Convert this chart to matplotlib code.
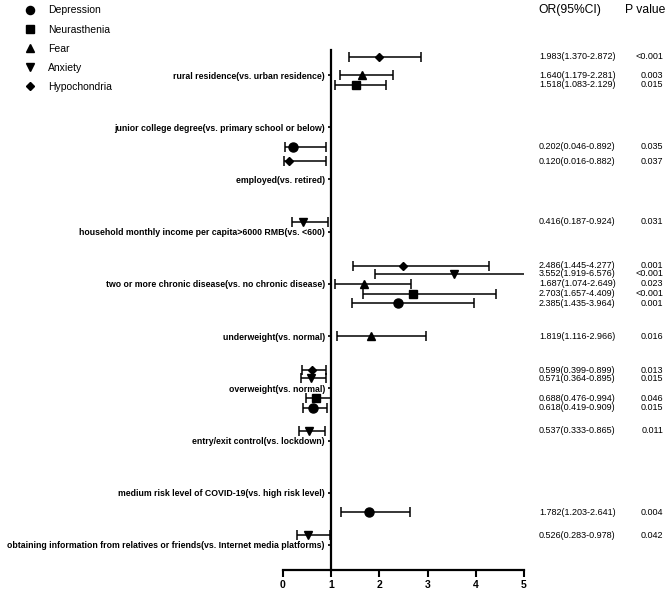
import numpy as np
import matplotlib
matplotlib.use("Agg")
import matplotlib.pyplot as plt
from matplotlib.lines import Line2D
from matplotlib.transforms import blended_transform_factory

plt.rcParams['font.family'] = ['Liberation Sans', 'DejaVu Sans']

# factors, top to bottom
categories = [
    "rural residence(vs. urban residence)",
    "junior college degree(vs. primary school or below)",
    "employed(vs. retired)",
    "household monthly income per capita>6000 RMB(vs. <600)",
    "two or more chronic disease(vs. no chronic disease)",
    "underweight(vs. normal)",
    "overweight(vs. normal)",
    "entry/exit control(vs. lockdown)",
    "medium risk level of COVID-19(vs. high risk level)",
    "obtaining information from relatives or friends(vs. Internet media platforms)",
]

# each series: factor index, OR, lower CI, upper CI, P value text
dep_cat = [1, 4, 6, 8]
dep_or = [0.202, 2.385, 0.618, 1.782]
dep_lo = [0.046, 1.435, 0.419, 1.203]
dep_hi = [0.892, 3.964, 0.909, 2.641]
dep_p = ["0.035", "0.001", "0.015", "0.004"]

neu_cat = [0, 4, 6]
neu_or = [1.518, 2.703, 0.688]
neu_lo = [1.083, 1.657, 0.476]
neu_hi = [2.129, 4.409, 0.994]
neu_p = ["0.015", "<0.001", "0.046"]

fear_cat = [0, 4, 5]
fear_or = [1.640, 1.687, 1.819]
fear_lo = [1.179, 1.074, 1.116]
fear_hi = [2.281, 2.649, 2.966]
fear_p = ["0.003", "0.023", "0.016"]

anx_cat = [3, 4, 6, 7, 9]
anx_or = [0.416, 3.552, 0.571, 0.537, 0.526]
anx_lo = [0.187, 1.919, 0.364, 0.333, 0.283]
anx_hi = [0.924, 6.576, 0.895, 0.865, 0.978]
anx_p = ["0.031", "<0.001", "0.015", "0.011", "0.042"]

hyp_cat = [0, 2, 4, 6]
hyp_or = [1.983, 0.120, 2.486, 0.599]
hyp_lo = [1.370, 0.016, 1.445, 0.399]
hyp_hi = [2.872, 0.882, 4.277, 0.899]
hyp_p = ["<0.001", "0.037", "0.001", "0.013"]

series = [
    ("Depression", dep_cat, dep_or, dep_lo, dep_hi, dep_p, "o", 6.5, -0.37),
    ("Neurasthenia", neu_cat, neu_or, neu_lo, neu_hi, neu_p, "s", 6.0, -0.19),
    ("Fear", fear_cat, fear_or, fear_lo, fear_hi, fear_p, "^", 6.0, 0.0),
    ("Anxiety", anx_cat, anx_or, anx_lo, anx_hi, anx_p, "v", 6.0, 0.19),
    ("Hypochondria", hyp_cat, hyp_or, hyp_lo, hyp_hi, hyp_p, "D", 4.0, 0.35),
]

n = len(categories)
fig = plt.figure(figsize=(6.69, 5.91), dpi=100)
ax = fig.add_axes([283/669, 21/591, 241/669, 520/591])

# y axis crosses at OR = 1 (set before tick styling, it resets ticks)
ax.spines["left"].set_position(("data", 1))
ax.spines["top"].set_visible(False)
ax.spines["right"].set_visible(False)
ax.spines["left"].set_linewidth(1.6)
ax.spines["bottom"].set_linewidth(1.6)

tr = blended_transform_factory(fig.transFigure, ax.transData)
handles = []
for name, cat, orv, lo, hi, pv, mk, ms, off in series:
    orv = np.array(orv)
    y = n - np.array(cat) + off
    xerr = [orv - np.array(lo), np.array(hi) - orv]
    ax.errorbar(orv, y, xerr=xerr, fmt=mk, color="black", ms=ms,
                elinewidth=1.1, capsize=3.5, capthick=1.1, clip_on=True)
    for yy, o, l, h, p in zip(y, orv, lo, hi, pv):
        fig.text(539/669, yy, "%.3f(%.3f-%.3f)" % (o, l, h), transform=tr,
                 fontsize=6.5, va="center", ha="left")
        fig.text(663/669, yy, p, transform=tr, fontsize=6.5, va="center", ha="right")
    handles.append(Line2D([], [], ls="none", marker=mk, color="black", ms=ms * 0.9))

ax.set_xlim(0, 5)
ax.set_ylim(0.52, n + 0.48)
ax.set_xticks([0, 1, 2, 3, 4, 5])
ax.set_yticks(n - np.arange(n))
ax.set_yticklabels(categories, fontsize=6.3, fontweight="bold")
for lab in ax.get_xticklabels():
    lab.set_fontweight("bold")
ax.tick_params(axis="x", labelsize=7.5, width=1.5, length=5, direction="out", pad=2)
ax.tick_params(axis="y", width=1.2, length=2.5, pad=2)

fig.text(538/669, 1 - 10/591, "OR(95%CI)", fontsize=8.7, va="center", ha="left")
fig.text(625/669, 1 - 10/591, "P value", fontsize=8.7, va="center", ha="left")

fig.legend(handles, [s[0] for s in series], loc="upper left",
           bbox_to_anchor=(15/669, 1 + 4/591), frameon=False, fontsize=7.5,
           labelspacing=0.88, handlelength=1.0, handletextpad=1.3)

fig.savefig("out.png", dpi=100)
